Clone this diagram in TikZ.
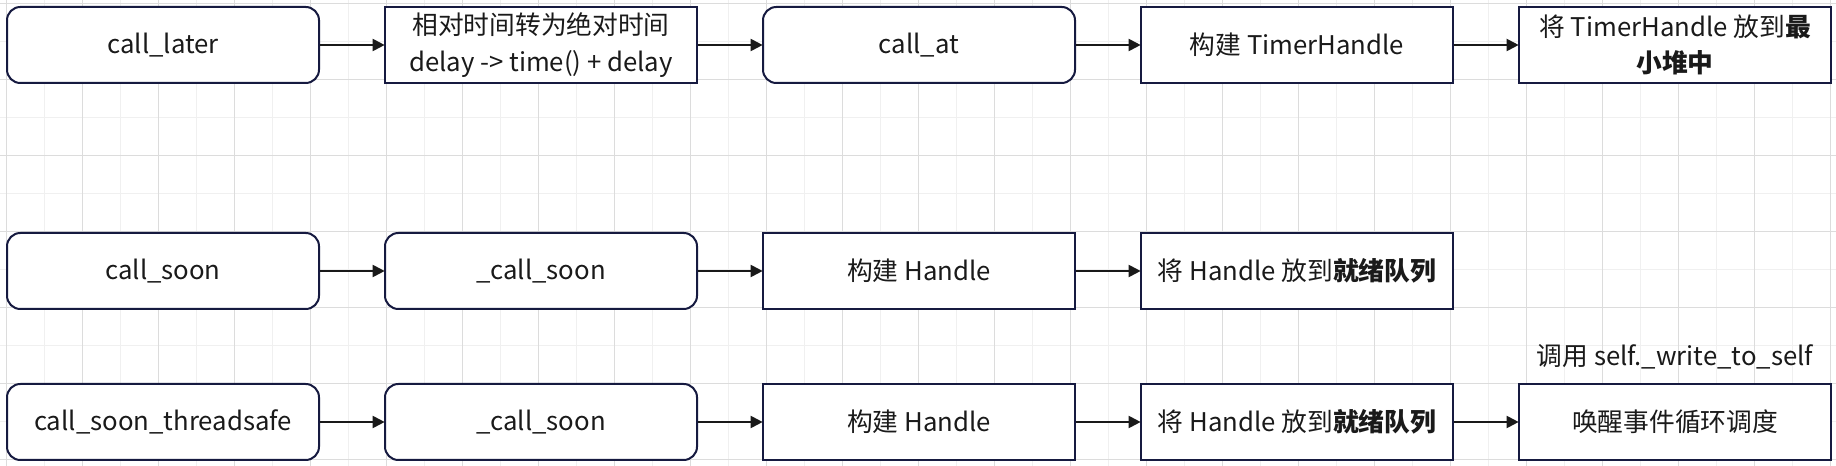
\documentclass[tikz,border=0pt]{standalone}
\usepackage{fontspec}
\setmainfont{Noto Sans CJK SC}
\usetikzlibrary{arrows.meta}

\definecolor{boxline}{RGB}{22,26,64}
\definecolor{txt}{RGB}{26,26,26}
\definecolor{gridmajor}{RGB}{220,220,220}
\definecolor{gridminor}{RGB}{240,240,240}

\tikzset{every picture/.style={line width=1.5pt}}
\tikzset{
  sbox/.style={draw=boxline, fill=white, minimum width=234pt, minimum height=57pt,
    inner sep=0pt, align=center, text=txt, font=\fontsize{19.3}{27.5}\selectfont},
  rbox/.style={sbox, rounded corners=10pt},
  flow/.style={draw=black!90, -{Triangle[length=9pt,width=9pt]}, shorten >=-0.5pt},
  note/.style={text=txt, inner sep=0pt, font=\fontsize{19.3}{27.5}\selectfont}
}

\begin{document}
\begin{tikzpicture}[x=0.75pt,y=0.75pt,yscale=-1,xscale=1]
\useasboundingbox (0,0) rectangle (1836,466);
\fill[white] (0,0) rectangle (1836,466);

%Background grid
\foreach \x in {44,120,...,1836} \draw[gridminor, line width=0.75pt] (\x,0) -- (\x,466);
\foreach \y in {41.7,117.7,...,466} \draw[gridminor, line width=0.75pt] (0,\y) -- (1836,\y);
\foreach \x in {6,82,...,1836} \draw[gridmajor, line width=0.75pt] (\x,0) -- (\x,466);
\foreach \y in {3.7,79.7,...,466} \draw[gridmajor, line width=0.75pt] (0,\y) -- (1836,\y);

%Row 1: call_later
\node[rbox] (later) at (163,45) {call\_later};
\node[sbox] (reltime) at (541,45) {相对时间转为绝对时间\\delay -> time() + delay};
\node[rbox] (callat) at (919,45) {call\_at};
\node[sbox] (mktimer) at (1297,45) {构建 TimerHandle};
\node[sbox] (heap) at (1675,45) {将 TimerHandle 放到\textbf{最}\\\textbf{小堆中}};

%Row 2: call_soon
\node[rbox] (soon) at (163,271) {call\_soon};
\node[rbox] (isoon) at (541,271) {\_call\_soon};
\node[sbox] (mkhandle) at (919,271) {构建 Handle};
\node[sbox] (ready) at (1297,271) {将 Handle 放到\textbf{就绪队列}};

%Row 3: call_soon_threadsafe
\node[rbox] (safe) at (163,422) {call\_soon\_threadsafe};
\node[rbox] (isoonb) at (541,422) {\_call\_soon};
\node[sbox] (mkhandleb) at (919,422) {构建 Handle};
\node[sbox] (readyb) at (1297,422) {将 Handle 放到\textbf{就绪队列}};
\node[sbox] (wakeup) at (1675,422) {唤醒事件循环调度};

% Text Node
\node[note] (selfwrite) at (1675,357) {调用 self.\_write\_to\_self};

%Connectors
\draw[flow] (later) -- (reltime);
\draw[flow] (reltime) -- (callat);
\draw[flow] (callat) -- (mktimer);
\draw[flow] (mktimer) -- (heap);

\draw[flow] (soon) -- (isoon);
\draw[flow] (isoon) -- (mkhandle);
\draw[flow] (mkhandle) -- (ready);

\draw[flow] (safe) -- (isoonb);
\draw[flow] (isoonb) -- (mkhandleb);
\draw[flow] (mkhandleb) -- (readyb);
\draw[flow] (readyb) -- (wakeup);

\end{tikzpicture}
\end{document}
